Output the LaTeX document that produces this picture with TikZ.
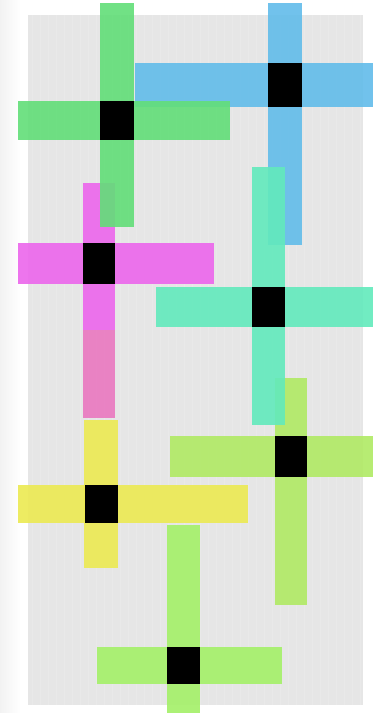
\documentclass[tikz,border=0pt]{standalone}
\definecolor{bggray}{HTML}{E6E6E6}
\definecolor{cgreen}{HTML}{62DE78}
\definecolor{cblue}{HTML}{62BCEA}
\definecolor{cmag}{HTML}{EC66EC}
\definecolor{cpink}{HTML}{EA78C0}
\definecolor{cteal}{HTML}{62EABC}
\definecolor{cyg}{HTML}{B0EA64}
\definecolor{cyel}{HTML}{ECEA52}
\definecolor{clg}{HTML}{A4F068}
\tikzset{
  arm/.style={fill opacity=0.9, draw=none},
  hub/.style={fill=black, draw=none},
}
\begin{document}
\begin{tikzpicture}[x=1pt,y=-1pt]
\useasboundingbox (0,0) rectangle (373,713);
\fill[white] (0,0) rectangle (373,713);
\shade[left color=black!5, right color=white] (0,0) rectangle (20,713);
\fill[bggray] (28,15) rectangle (363,705);
\begin{scope}
\clip (28,15) rectangle (363,705);
\draw[white, opacity=0.15, line width=0.3pt, step=8] (28,15) grid (363,705);
\end{scope}
% magenta cross
\fill[arm, cmag] (83,183) rectangle (115,330);
\fill[arm, cpink] (83,330) rectangle (115,418);
\fill[arm, cmag] (18,243) rectangle (214,284);
% yellow cross
\fill[arm, cyel] (84,420) rectangle (118,568);
\fill[arm, cyel] (18,485) rectangle (248,523);
% blue cross
\fill[arm, cblue] (268,3) rectangle (302,245);
\fill[arm, cblue] (135,63) rectangle (373,107);
% green cross
\fill[arm, cgreen] (100,3) rectangle (134,227);
\fill[arm, cgreen] (18,101) rectangle (230,140);
% yellow-green cross
\fill[arm, cyg] (275,378) rectangle (307,605);
\fill[arm, cyg] (170,436) rectangle (373,477);
% teal cross
\fill[arm, cteal] (252,167) rectangle (285,425);
\fill[arm, cteal] (156,287) rectangle (373,327);
% light green cross
\fill[arm, clg] (167,525) rectangle (200,713);
\fill[arm, clg] (97,647) rectangle (282,684);
% hubs
\fill[hub] (100,101) rectangle (134,140);
\fill[hub] (268,63) rectangle (302,107);
\fill[hub] (83,243) rectangle (115,284);
\fill[hub] (252,287) rectangle (285,327);
\fill[hub] (275,436) rectangle (307,477);
\fill[hub] (85,485) rectangle (118,523);
\fill[hub] (167,647) rectangle (200,684);
\end{tikzpicture}
\end{document}
